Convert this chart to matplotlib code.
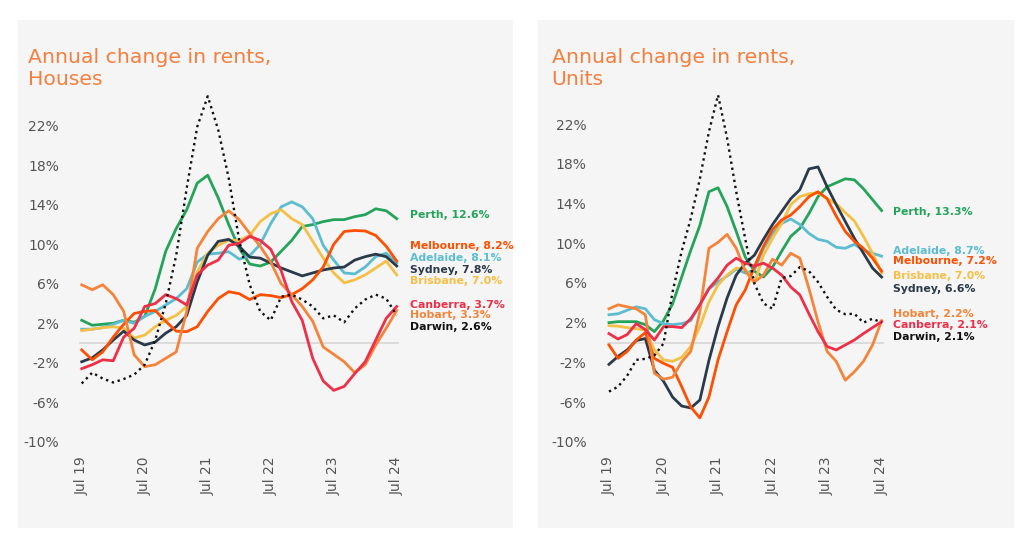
import matplotlib
matplotlib.use("Agg")
import matplotlib.pyplot as plt
from matplotlib.patches import Rectangle

# months since Jul 2019, every second month
months = list(range(0, 61, 2))
xtick_pos = [0, 12, 24, 36, 48, 60]
xtick_labels = ["Jul 19", "Jul 20", "Jul 21", "Jul 22", "Jul 23", "Jul 24"]
ytick_vals = [-10, -6, -2, 2, 6, 10, 14, 18, 22]

cities = ["Perth", "Melbourne", "Adelaide", "Sydney", "Brisbane", "Canberra", "Hobart", "Darwin"]

# Houses, annual change %
perth_h = [2.3, 1.8, 1.9, 2.0, 2.3, 2.1, 2.7, 5.5, 9.3, 11.6, 13.5, 16.2, 17.0, 14.7, 12.0, 9.6,
           8.0, 7.8, 8.2, 9.3, 10.4, 11.8, 12.0, 12.3, 12.5, 12.5, 12.8, 13.0, 13.6, 13.4, 12.6]
melbourne_h = [-0.7, -1.7, -0.9, 0.6, 1.9, 3.0, 3.2, 3.3, 2.2, 1.2, 1.15, 1.65, 3.2, 4.5, 5.2, 5.0,
               4.4, 4.9, 4.8, 4.6, 4.9, 5.5, 6.4, 7.7, 10.0, 11.3, 11.4, 11.35, 10.9, 9.8, 8.3]
adelaide_h = [1.4, 1.4, 1.55, 1.9, 2.3, 2.0, 2.7, 3.2, 3.85, 4.5, 5.5, 8.2, 9.0, 9.1, 9.25, 8.5,
              8.85, 10.0, 12.1, 13.8, 14.3, 13.8, 12.6, 9.9, 8.4, 7.1, 7.0, 7.7, 8.75, 9.1, 8.1]
sydney_h = [-1.9, -1.5, -0.7, 0.3, 1.2, 0.3, -0.2, 0.1, 1.0, 1.65, 2.8, 6.2, 8.9, 10.3, 10.5, 9.8,
            8.7, 8.6, 8.1, 7.6, 7.2, 6.8, 7.1, 7.4, 7.6, 7.7, 8.4, 8.75, 9.0, 8.75, 7.8]
brisbane_h = [1.25, 1.4, 1.55, 1.65, 1.5, 0.5, 0.8, 1.65, 2.3, 2.8, 3.7, 7.2, 9.1, 9.9, 10.4, 10.4,
              10.9, 12.3, 13.1, 13.5, 12.6, 12.0, 10.3, 8.6, 7.1, 6.1, 6.4, 6.9, 7.6, 8.3, 6.9]
canberra_h = [-2.6, -2.2, -1.7, -1.8, 0.6, 1.5, 3.7, 4.0, 4.9, 4.5, 3.85, 6.9, 7.9, 8.4, 9.9, 10.1,
              10.8, 10.4, 9.5, 7.3, 4.2, 2.3, -1.55, -3.85, -4.8, -4.4, -3.1, -1.9, 0.3, 2.5, 3.7]
hobart_h = [5.9, 5.4, 5.9, 4.9, 3.2, -1.2, -2.4, -2.2, -1.55, -0.9, 3.2, 9.6, 11.3, 12.6, 13.4, 12.5,
            11.1, 9.8, 8.2, 6.0, 4.9, 3.7, 2.2, -0.4, -1.15, -1.9, -3.0, -2.2, -0.2, 1.5, 3.3]
darwin_h = [-4.1, -3.0, -3.6, -4.0, -3.65, -3.2, -2.2, 0.3, 4.0, 8.9, 15.7, 21.9, 25.0, 21.6, 16.7, 10.4,
            5.9, 3.2, 2.3, 4.7, 4.9, 4.4, 3.7, 2.5, 2.8, 2.1, 3.5, 4.4, 4.9, 4.5, 2.8]
latest_h = [12.6, 8.2, 8.1, 7.8, 7.0, 3.7, 3.3, 2.6]

# Units, annual change %
perth_u = [2.0, 2.1, 2.1, 2.1, 1.8, 1.1, 2.2, 3.9, 6.6, 9.3, 11.8, 15.2, 15.6, 13.7, 11.2, 8.6,
           7.2, 6.6, 7.6, 9.2, 10.7, 11.5, 13.0, 14.7, 15.7, 16.1, 16.5, 16.4, 15.5, 14.4, 13.3]
melbourne_u = [-0.25, -1.6, -0.9, 0.25, 1.0, -1.6, -2.1, -2.5, -4.45, -6.5, -7.6, -5.5, -1.75, 1.1, 3.8, 5.3,
               7.65, 9.7, 11.4, 12.35, 12.85, 13.7, 14.7, 15.2, 14.5, 12.75, 11.2, 10.2, 9.5, 8.5, 7.2]
adelaide_u = [2.8, 2.9, 3.25, 3.6, 3.4, 2.3, 1.9, 1.8, 1.9, 2.2, 3.8, 5.4, 6.1, 6.7, 7.4, 7.0,
              7.3, 9.5, 11.0, 12.0, 12.45, 11.9, 11.0, 10.4, 10.2, 9.6, 9.5, 9.9, 9.3, 9.0, 8.7]
sydney_u = [-2.2, -1.4, -0.75, 0.2, 0.4, -2.8, -3.9, -5.5, -6.4, -6.6, -5.8, -1.8, 1.6, 4.5, 6.8, 8.0,
            8.8, 10.4, 11.9, 13.2, 14.5, 15.4, 17.5, 17.7, 15.7, 13.9, 12.2, 10.5, 9.0, 7.5, 6.6]
brisbane_u = [1.7, 1.65, 1.5, 1.4, 1.25, -0.75, -1.75, -1.9, -1.5, -0.4, 1.6, 4.1, 5.8, 6.8, 7.5, 7.4,
              6.0, 8.8, 10.5, 12.0, 13.9, 14.7, 15.0, 15.1, 14.5, 14.0, 13.1, 12.25, 10.7, 9.0, 7.0]
canberra_u = [0.9, 0.35, 0.8, 1.9, 1.3, 0.25, 1.6, 1.6, 1.5, 2.4, 3.8, 5.45, 6.5, 7.8, 8.5, 8.0,
              7.7, 8.0, 7.5, 6.8, 5.6, 4.8, 2.9, 1.1, -0.4, -0.75, -0.25, 0.25, 0.9, 1.5, 2.1]
hobart_u = [3.4, 3.8, 3.6, 3.4, 2.8, -3.1, -3.7, -3.5, -1.95, -0.9, 3.1, 9.5, 10.1, 10.9, 9.5, 7.2,
            6.1, 6.8, 8.4, 7.8, 9.0, 8.5, 5.45, 2.1, -0.9, -1.9, -3.8, -2.95, -1.9, -0.25, 2.2]
darwin_u = [-4.95, -4.45, -3.35, -1.75, -1.65, -1.3, -0.1, 5.1, 9.2, 12.5, 16.5, 21.25, 24.95, 20.6, 15.2, 10.4,
            5.95, 3.95, 3.4, 6.5, 6.7, 7.6, 7.2, 6.1, 4.6, 3.3, 2.85, 2.9, 2.0, 2.4, 2.0]
latest_u = [13.3, 7.2, 8.7, 6.6, 7.0, 2.1, 2.2, 2.1]

colors = {
    "Perth": "#24a35a",
    "Melbourne": "#ff4f00",
    "Adelaide": "#5bbdcf",
    "Sydney": "#2b3a4a",
    "Brisbane": "#f6bf45",
    "Canberra": "#ee2f48",
    "Hobart": "#f5843a",
    "Darwin": "#111111",
}
draw_order = ["Perth", "Adelaide", "Brisbane", "Sydney", "Melbourne", "Hobart", "Canberra", "Darwin"]

# end-label vertical spots (data units), set so labels don't overlap
label_y_h = {"Perth": 13.0, "Melbourne": 9.8, "Adelaide": 8.65, "Sydney": 7.4, "Brisbane": 6.3,
             "Canberra": 3.85, "Hobart": 2.8, "Darwin": 1.65}
label_y_u = {"Perth": 13.2, "Adelaide": 9.2, "Melbourne": 8.2, "Brisbane": 6.7, "Sydney": 5.4,
             "Hobart": 2.9, "Canberra": 1.75, "Darwin": 0.6}

houses = dict(zip(draw_order, [perth_h, adelaide_h, brisbane_h, sydney_h, melbourne_h, hobart_h, canberra_h, darwin_h]))
units = dict(zip(draw_order, [perth_u, adelaide_u, brisbane_u, sydney_u, melbourne_u, hobart_u, canberra_u, darwin_u]))

W, H = 1024, 535
fig = plt.figure(figsize=(W / 100, H / 100), dpi=100)
fig.patch.set_facecolor("white")

title_col = "#f47f3e"
tick_col = "#555555"
panel_col = "#f5f5f5"

# grey panels (behind the axes)
for x0, x1 in [(18, 513), (538, 1014)]:
    fig.patches.append(Rectangle((x0 / W, 7 / H), (x1 - x0) / W, 508 / H,
                                 transform=fig.transFigure, facecolor=panel_col,
                                 edgecolor="none", zorder=-5))


def panel(rect, data, latest, label_y, title2, title_x):
    ax = fig.add_axes(rect)
    ax.set_facecolor("none")
    ax.axhline(0, color="#d6d6d6", lw=1.2, zorder=1)
    for city in draw_order:
        if city == "Darwin":
            ax.plot(months, data[city], color=colors[city], lw=1.7,
                    linestyle=(0, (1, 1.6)), zorder=3)
        else:
            ax.plot(months, data[city], color=colors[city], lw=2.0,
                    solid_joinstyle="round", zorder=2)
    for city in cities:
        val = latest[cities.index(city)]
        ax.text(62.5, label_y[city], f"{city}, {val:.1f}%", color=colors[city],
                fontsize=7.8, fontweight="bold", va="center", ha="left", clip_on=False)
    ax.set_xlim(-0.5, 60.5)
    ax.set_ylim(-10, 26)
    ax.set_yticks(ytick_vals)
    ax.set_yticklabels([f"{v}%" for v in ytick_vals])
    ax.set_xticks(xtick_pos)
    ax.set_xticklabels(xtick_labels, rotation=90)
    ax.tick_params(axis="y", length=0, pad=14.5, labelsize=10, labelcolor=tick_col)
    ax.tick_params(axis="x", length=0, pad=10.5, labelsize=10, labelcolor=tick_col)
    for s in ax.spines.values():
        s.set_visible(False)
    fig.text(title_x / W, 1 - 62.7 / H, "Annual change in rents,", color=title_col,
             fontsize=14.7, va="baseline", ha="left")
    fig.text(title_x / W, 1 - 85 / H, title2, color=title_col,
             fontsize=14.7, va="baseline", ha="left")
    return ax


panel([79.1 / W, (H - 441.7) / H, 320.25 / W, (441.7 - 86.4) / H], houses, latest_h, label_y_h, "Houses", 27.5)
panel([606.7 / W, (H - 441.7) / H, 277.2 / W, (441.7 - 84.6) / H], units, latest_u, label_y_u, "Units", 551.5)

fig.savefig("out.png", dpi=100, facecolor="white")
